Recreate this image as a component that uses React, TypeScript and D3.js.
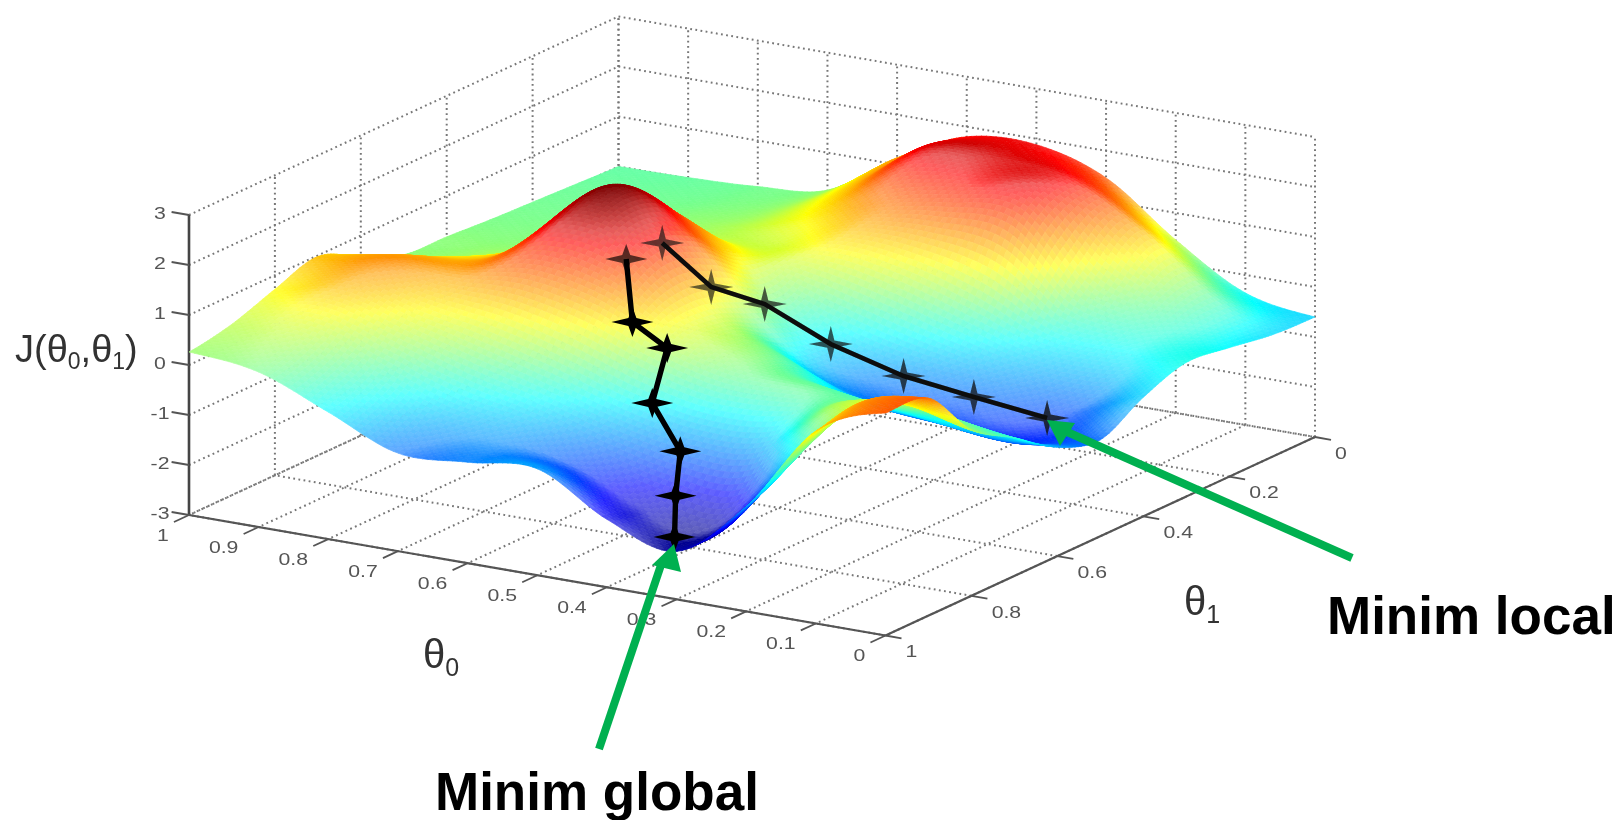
import React, { useEffect, useRef } from "react";
import * as d3 from "d3";

// theta0 runs back to front, theta1 left to right of each row
const theta0Levels = [1, 0.9, 0.8, 0.7, 0.6, 0.5, 0.4, 0.3, 0.2, 0.1, 0];
const theta1Levels = [0, 0.1, 0.2, 0.3, 0.4, 0.5, 0.6, 0.7, 0.8, 0.9, 1];

const jAt10 = [0, 0.04, 0.08, 0.12, 0.18, 0.22, 0.58, 0.98, 0.72, 0.42, 0.26];
const jAt09 = [0.02, 0.06, 0.1, 0.15, 0.22, 0.42, 0.82, 1.2, 1.0, 0.42, 0.1];
const jAt08 = [0.08, 0.12, 0.2, 0.25, 0.4, 0.95, 1.1, 1.15, 0.62, -0.1, -0.46];
const jAt07 = [0.25, 0.3, 0.35, 0.5, 1.5, 2.35, 2.15, 1.35, 0.25, -0.65, -1.04];
const jAt06 = [1.14, 1.0, 0.75, 0.5, 0.9, 1.65, 1.85, 1.1, -0.15, -0.85, -0.98];
const jAt05 = [1.8, 1.95, 1.3, 0.75, -0.05, 0.25, 0.6, 0.5, -0.6, -1.25, -0.87];
const jAt04 = [1.88, 2.0, 1.6, 0.55, -0.6, -0.75, 0.02, 0.1, -0.85, -1.75, -1.64];
const jAt03 = [1.46, 1.88, 1.65, 0.1, -0.85, -1.1, -0.55, 0.05, -0.75, -1.95, -2.04];
const jAt02 = [0.46, 1.1, 0.35, -0.45, -1.0, -1.25, -0.7, -0.05, 0.3, -0.45, -0.9];
const jAt01 = [-0.36, 0.1, -0.1, -0.5, -1.15, -1.35, -0.85, -0.05, 0.6, 1.0, 0.85];
const jAt00 = [-0.6, -0.56, -0.42, -0.32, -0.62, -1.07, -0.82, -0.24, 0.32, 1.35, 1.45];
const surfaceRows = [jAt10, jAt09, jAt08, jAt07, jAt06, jAt05, jAt04, jAt03, jAt02, jAt01, jAt00];

// gradient descent runs
const globalT0 = [0.585, 0.549, 0.488, 0.481, 0.405, 0.371, 0.33];
const globalT1 = [0.655, 0.699, 0.717, 0.763, 0.821, 0.887, 0.956];
const globalJ = [1.75, 0.75, 0.45, -0.45, -1.0, -1.55, -2.0];
const globalAlpha = [0.65, 1, 1, 1, 1, 1, 1];

const localT0 = [0.595, 0.529, 0.491, 0.422, 0.336, 0.232, 0.125];
const localT1 = [0.555, 0.548, 0.485, 0.443, 0.413, 0.418, 0.421];
const localJ = [1.65, 0.9, 0.4, -0.4, -0.95, -1.1, -1.25];
const localAlpha = [0.65, 0.65, 0.7, 0.7, 0.75, 0.75, 0.8];

const t0Ticks = [1, 0.9, 0.8, 0.7, 0.6, 0.5, 0.4, 0.3, 0.2, 0.1, 0];
const t1Ticks = [0, 0.2, 0.4, 0.6, 0.8, 1];
const jTicks = [-3, -2, -1, 0, 1, 2, 3];

// box projection, the box is a plain parallelogram on screen
const t0X = d3.scaleLinear().domain([0, 1]).range([0, -696.5]);
const t0Y = d3.scaleLinear().domain([0, 1]).range([0, -120.5]);
const t1X = d3.scaleLinear().domain([0, 1]).range([1315, 885.5]);
const t1Y = d3.scaleLinear().domain([0, 1]).range([437, 635.5]);
const jY = d3.scaleLinear().domain([-3, 3]).range([0, -300]);

const project = (t0: number, t1: number, j: number): [number, number] => [
  t1X(t1) + t0X(t0),
  t1Y(t1) + t0Y(t0) + jY(j),
];

const jet = d3
  .scaleLinear<string>()
  .domain([-2.1, -1.54, -0.41, 0.71, 1.84, 2.4])
  .range(["#00008f", "#0000ff", "#00ffff", "#ffff00", "#ff0000", "#800000"])
  .interpolate(d3.interpolateRgb)
  .clamp(true);

// dark red at the very top takes less of the pale mesh look
const topFade = d3.scaleLinear().domain([2.0, 2.35]).range([1, 0.4]).clamp(true);

const catmull = (p0: number, p1: number, p2: number, p3: number, t: number) =>
  0.5 *
  (2 * p1 +
    (p2 - p0) * t +
    (2 * p0 - 5 * p1 + 4 * p2 - p3) * t * t +
    (3 * p1 - p0 - 3 * p2 + p3) * t * t * t);

// smooth reading of the table between its nodes, like a curve through points
const surfaceAt = (u: number, v: number) => {
  const n = surfaceRows.length - 1;
  const m = surfaceRows[0].length - 1;
  const i = Math.min(Math.floor(u * n), n - 1);
  const k = Math.min(Math.floor(v * m), m - 1);
  const tu = u * n - i;
  const tv = v * m - k;
  const rows = [i - 1, i, i + 1, i + 2].map((r) => surfaceRows[Math.max(0, Math.min(n, r))]);
  const vals = rows.map((row) => {
    const c = [k - 1, k, k + 1, k + 2].map((q) => row[Math.max(0, Math.min(m, q))]);
    return catmull(c[0], c[1], c[2], c[3], tv);
  });
  return catmull(vals[0], vals[1], vals[2], vals[3], tu);
};

const starPath = (cx: number, cy: number, rx: number, ry: number, w: number) => {
  const pts: [number, number][] = [
    [cx - rx, cy],
    [cx - w, cy - w],
    [cx, cy - ry],
    [cx + w, cy - w],
    [cx + rx, cy],
    [cx + w, cy + w],
    [cx, cy + ry],
    [cx - w, cy + w],
  ];
  return "M" + pts.map((p) => p.join(",")).join("L") + "Z";
};

const SANS = "'Liberation Sans', Arial, sans-serif";

const App = () => {
  const ref = useRef<SVGGElement | null>(null);

  useEffect(() => {
    const g = d3.select(ref.current);
    g.selectAll("*").remove();
    const steps = 140;
    const du = 1 / steps;
    const flat = (696.5 * 198.5 + 429.5 * 120.5) * du * du;
    const cells: { d: string; fill: string }[] = [];
    const grid = d3.range(steps + 1).map((i) =>
      d3.range(steps + 1).map((k) => {
        const t0 = 1 - i / steps;
        const t1 = k / steps;
        const j = surfaceAt(i / steps, k / steps);
        return { p: project(t0, t1, j), j };
      })
    );
    for (let i = 0; i < steps; i++) {
      for (let k = 0; k < steps; k++) {
        const a = grid[i][k];
        const b = grid[i][k + 1];
        const c = grid[i + 1][k + 1];
        const e = grid[i + 1][k];
        const area =
          Math.abs(
            (c.p[0] - a.p[0]) * (e.p[1] - b.p[1]) - (c.p[1] - a.p[1]) * (e.p[0] - b.p[0])
          ) / 2;
        const ratio = area / flat;
        const mean = (a.j + b.j + c.j + e.j) / 4;
        const pale =
          (Math.max(0, Math.min(0.36, (ratio - 0.8) * 0.4)) + ((i + k) % 2 ? 0.03 : 0)) *
          topFade(mean);
        cells.push({
          d: `M${a.p[0].toFixed(1)},${a.p[1].toFixed(1)}L${b.p[0].toFixed(1)},${b.p[1].toFixed(
            1
          )}L${c.p[0].toFixed(1)},${c.p[1].toFixed(1)}L${e.p[0].toFixed(1)},${e.p[1].toFixed(1)}Z`,
          fill: d3.interpolateRgb(jet(mean), "#ffffff")(pale),
        });
      }
    }
    g.selectAll("path")
      .data(cells)
      .enter()
      .append("path")
      .attr("d", (d) => d.d)
      .attr("fill", (d) => d.fill)
      .attr("stroke", (d) => d.fill)
      .attr("stroke-width", 0.7);
  }, []);

  const seg = (p: [number, number], q: [number, number]) => d3.line()([p, q]) || "";
  const run = d3.line();

  const globalPts = globalT0.map((t, i) => project(t, globalT1[i], globalJ[i]));
  const localPts = localT0.map((t, i) => project(t, localT1[i], localJ[i]));

  const floorLines: string[] = [
    ...t0Ticks.map((t) => seg(project(t, 0, -3), project(t, 1, -3))),
    ...t1Ticks.map((t) => seg(project(0, t, -3), project(1, t, -3))),
  ];
  const wallLines: string[] = [
    ...jTicks.map((z) => seg(project(1, 1, z), project(1, 0, z))),
    ...jTicks.map((z) => seg(project(1, 0, z), project(0, 0, z))),
    ...t0Ticks.map((t) => seg(project(t, 0, -3), project(t, 0, 3))),
    ...t1Ticks.map((t) => seg(project(1, t, -3), project(1, t, 3))),
  ];

  const tickLabel = (key: string, x: number, y: number, label: number) => (
    <text key={key} transform={`translate(${x},${y}) scale(1.25,1)`}>
      {label}
    </text>
  );

  return (
    <svg
      width={1623}
      height={820}
      style={{ position: "absolute", left: 0, top: 0, background: "#fff" }}
      fontFamily={SANS}
    >
      <defs>
        <filter id="soft" x="-5%" y="-5%" width="110%" height="110%">
          <feGaussianBlur stdDeviation="0.55" />
        </filter>
      </defs>

      <g filter="url(#soft)">
        <g fill="none" stroke="#777" strokeWidth={2} strokeDasharray="1.8 3.4">
          {floorLines.map((d, i) => (
            <path key={"f" + i} d={d} />
          ))}
          {wallLines.map((d, i) => (
            <path key={"w" + i} d={d} />
          ))}
        </g>

        {/* axes */}
        <g fill="none" stroke="#555">
          <path d={seg(project(1, 1, -3), project(1, 1, 3))} strokeWidth={2.6} stroke="#444" />
          <path d={seg(project(1, 1, -3), project(0, 1, -3))} strokeWidth={2.2} />
          <path d={seg(project(0, 1, -3), project(0, 0, -3))} strokeWidth={2.2} />
          {jTicks.map((z) => (
            <path key={z} d={seg(project(1, 1, z), project(1.025, 1, z))} strokeWidth={2} />
          ))}
          {t0Ticks.map((t) => (
            <path key={t} d={seg(project(t, 1, -3), project(t, 1.035, -3))} strokeWidth={1.8} />
          ))}
          {t1Ticks.map((t) => (
            <path key={t} d={seg(project(0, t, -3), project(-0.023, t, -3))} strokeWidth={1.8} />
          ))}
        </g>

        <g fill="#555" fontSize={17} textAnchor="middle" dominantBaseline="central">
          {jTicks.map((z) => {
            const p = project(1, 1, z);
            return tickLabel("j" + z, p[0] - 29, p[1] - 2, z);
          })}
          {t0Ticks.map((t) => {
            const p = project(t, 1, -3);
            return tickLabel("a" + t, p[0] - (t === 0 || t === 1 ? 26 : 35), p[1] + 20, t);
          })}
          {t1Ticks.map((t) => {
            const p = project(0, t, -3);
            return tickLabel("b" + t, p[0] + (t === 0 || t === 1 ? 26 : 35), p[1] + 16, t);
          })}
        </g>

        <g fill="#333" fontSize={38}>
          <text x={15} y={362}>
            J(θ
            <tspan fontSize={23} dy={7}>
              0
            </tspan>
            <tspan dy={-7}>,θ</tspan>
            <tspan fontSize={23} dy={7}>
              1
            </tspan>
            <tspan dy={-7}>)</tspan>
          </text>
          <text x={423} y={668} fontSize={40}>
            θ
            <tspan fontSize={25} dy={8}>
              0
            </tspan>
          </text>
          <text x={1184} y={615} fontSize={40}>
            θ
            <tspan fontSize={25} dy={8}>
              1
            </tspan>
          </text>
        </g>

        <g ref={ref} />
      </g>

      {/* descent paths */}
      <g filter="url(#soft)">
        <path d={run(localPts) || ""} fill="none" stroke="#0a0a0a" strokeWidth={4.6} />
        <path d={run(globalPts) || ""} fill="none" stroke="#000" strokeWidth={5.4} />
        {localPts.map((p, i) => (
          <path key={i} d={starPath(p[0], p[1], 22, 18, 3.6)} fill="#111" opacity={localAlpha[i]} />
        ))}
        {globalPts.map((p, i) => (
          <path key={i} d={starPath(p[0], p[1], 21, 15, 4)} fill="#000" opacity={globalAlpha[i]} />
        ))}
      </g>

      {/* annotations */}
      <g fill="#00b050" stroke="none">
        <path d="M599,749L661,565" stroke="#00b050" strokeWidth={8} fill="none" />
        <path d="M674,544L681,572L652,565Z" />
        <path d="M1352,558L1065,431" stroke="#00b050" strokeWidth={8} fill="none" />
        <path d="M1047,420L1075,423L1060,446Z" />
      </g>
      <g fontWeight="bold" fontSize={53} fill="#000">
        <text x={435} y={810}>
          Minim global
        </text>
        <text x={1327} y={634}>
          Minim local
        </text>
      </g>
    </svg>
  );
};

export default App;
